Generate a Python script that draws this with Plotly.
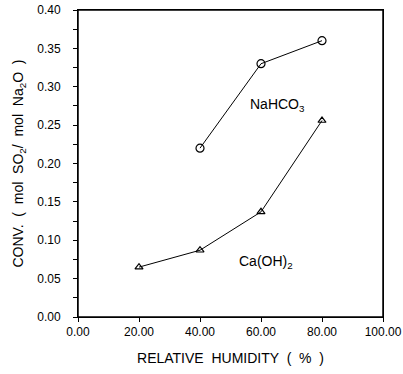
import plotly.graph_objects as go

na_x = [40, 60, 80]
na_y = [0.22, 0.33, 0.36]
ca_x = [20, 40, 60, 80]
ca_y = [0.065, 0.087, 0.137, 0.256]

x_tickvals = [0, 20, 40, 60, 80, 100]
x_ticktext = ["0.00", "20.00", "40.00", "60.00", "80.00", "100.00"]
y_tickvals = [0, 0.05, 0.10, 0.15, 0.20, 0.25, 0.30, 0.35, 0.40]
y_ticktext = ["0.00", "0.05", "0.10", "0.15", "0.20", "0.25", "0.30", "0.35", "0.40"]

FONT = "Liberation Sans"

fig = go.Figure()
fig.add_trace(go.Scatter(x=na_x, y=na_y, mode="lines+markers",
                         line=dict(color="black", width=1),
                         marker=dict(symbol="circle-open", size=8, color="black", line=dict(width=1.2)),
                         showlegend=False, cliponaxis=False))
fig.add_trace(go.Scatter(x=ca_x, y=ca_y, mode="lines+markers",
                         line=dict(color="black", width=1),
                         marker=dict(symbol="triangle-up-open", size=7, color="black", line=dict(width=1.2)),
                         showlegend=False, cliponaxis=False))

fig.add_annotation(x=65.5, y=0.276, text="NaHCO<sub>3</sub>", showarrow=False,
                   font=dict(family=FONT, size=14, color="black"))
fig.add_annotation(x=61.5, y=0.072, text="Ca(OH)<sub>2</sub>", showarrow=False,
                   font=dict(family=FONT, size=14, color="black"))

# plot frame
fig.add_shape(type="rect", xref="x domain", yref="y domain", x0=0, y0=0, x1=1, y1=1,
              line=dict(color="black", width=1.5), fillcolor="rgba(0,0,0,0)", layer="above")

fig.update_xaxes(range=[0, 100], tickvals=x_tickvals, ticktext=x_ticktext, automargin=False,
                 showgrid=False, zeroline=False, showline=True, linecolor="black", linewidth=1,
                 mirror=True, ticks="outside", ticklen=4, tickcolor="black",
                 ticklabeloverflow="allow",
                 tickfont=dict(family=FONT, size=12, color="black"),
                 title=dict(text="RELATIVE  HUMIDITY  (  %  )", standoff=14,
                            font=dict(family=FONT, size=14, color="black")))
fig.update_yaxes(range=[0, 0.4], tickvals=y_tickvals, ticktext=y_ticktext, automargin=False,
                 showgrid=False, zeroline=False, showline=True, linecolor="black", linewidth=1,
                 mirror=True, ticks="outside", ticklen=4, tickcolor="black", ticklabelstandoff=10,
                 ticklabeloverflow="allow",
                 minor=dict(dtick=0.025, ticks="outside", ticklen=4, tickcolor="black"),
                 tickfont=dict(family=FONT, size=12, color="black"),
                 title=dict(text="CONV.  (  mol  SO<sub>2</sub>/  mol  Na<sub>2</sub>O  )", standoff=10,
                            font=dict(family=FONT, size=14, color="black")))

fig.update_layout(width=403, height=374, margin=dict(l=78, r=20, t=10, b=57),
                  plot_bgcolor="white", paper_bgcolor="white")

fig.write_html("out.html", config={"displayModeBar": False},
               post_script="document.body.style.margin='0';")
